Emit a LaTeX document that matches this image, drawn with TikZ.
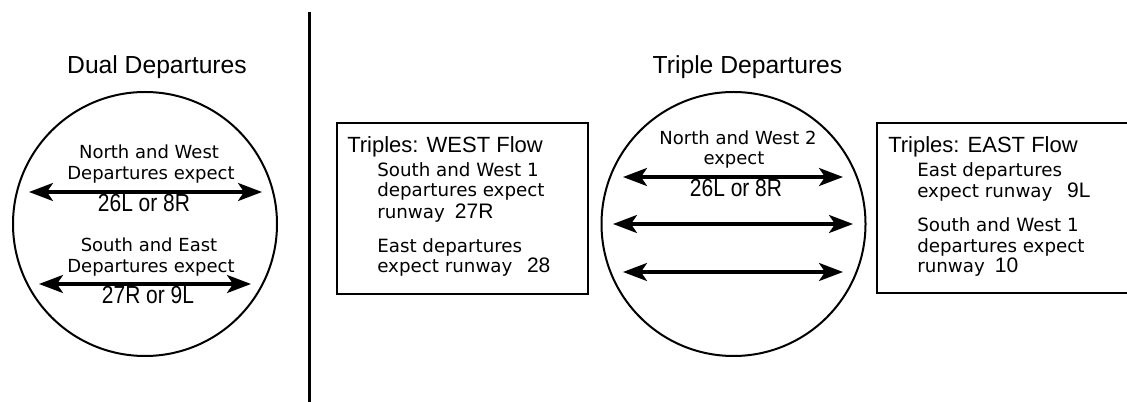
\documentclass[tikz,border=0pt]{standalone}
\usepackage{fontspec}
\setmainfont{DejaVu Sans}
\newfontfamily\headfont{Liberation Sans}
\newfontfamily\rwyfont[FakeStretch=0.85]{Liberation Sans}
\usetikzlibrary{arrows.meta}

\tikzset{
  ring/.style={draw, circle, line width=1.5pt, minimum size=198pt, inner sep=0pt},
  panel/.style={draw, rectangle, line width=1.5pt, inner sep=0pt},
  barb/.style={Stealth[length=18pt,width=13.5pt,inset=4.5pt]},
  runway/.style={line width=2.3pt, {Stealth[length=18pt,width=13.5pt,inset=4.5pt]}-{Stealth[length=18pt,width=13.5pt,inset=4.5pt]}},
  divider/.style={line width=1.8pt},
  heading/.style={font=\headfont\fontsize{18.5}{20}\selectfont, inner sep=0pt, anchor=base},
  boxhead/.style={font=\headfont\fontsize{16.5}{18}\selectfont, inner sep=0pt, anchor=base west},
  note/.style={font=\fontsize{13.5}{15.75}\selectfont, inner sep=0pt, anchor=base},
  line/.style={font=\fontsize{13.7}{15.75}\selectfont, inner sep=0pt, anchor=base west},
  rwytext/.style={font=\rwyfont\fontsize{18.5}{20}\selectfont, inner sep=0pt, anchor=base},
}
\newcommand{\rwynum}[1]{{\headfont\fontsize{15.75}{16}\selectfont #1}}

\begin{document}
\begin{tikzpicture}[x=0.75pt,y=-0.75pt]
\useasboundingbox (0,0) rectangle (1127,402);

% separator between the two halves
\coordinate (septop) at (309.5,12);
\coordinate (sepbot) at (309.5,402);
\draw[divider] (septop) -- (sepbot);

% ---------- dual departures ----------
\node[heading] (dualtitle) at (157,74) {Dual Departures};
\node[ring] (dual) at (145,224) {};

\node[note] (dn1) at (149,159) {North and West};
\node[note] (dn2) at (151,180) {Departures expect};
\coordinate (d1l) at (29,192);
\coordinate (d1r) at (262,192);
\draw[runway] (d1l) -- (d1r);
\node[rwytext] (drwy1) at (144,212) {26L or 8R};

\node[note] (ds1) at (149,252) {South and East};
\node[note] (ds2) at (151,273) {Departures expect};
\coordinate (d2l) at (39,284);
\coordinate (d2r) at (251,284);
\draw[runway] (d2l) -- (d2r);
\node[rwytext] (drwy2) at (148,304) {27R or 9L};

% ---------- triple departures ----------
\node[heading] (tripletitle) at (747.5,74) {Triple Departures};
\node[ring] (triple) at (733.5,224) {};

\node[note] (tn1) at (738,145) {North and West 2};
\node[note] (tn2) at (734,165) {expect};
\coordinate (t1l) at (623,177);
\coordinate (t1r) at (843,177);
\draw[runway] (t1l) -- (t1r);
\node[rwytext] (trwy) at (736,197) {26L or 8R};

\coordinate (t2l) at (613,224);
\coordinate (t2r) at (853,224);
\draw[runway] (t2l) -- (t2r);

\coordinate (t3l) at (623,272);
\coordinate (t3r) at (843,272);
\draw[runway] (t3l) -- (t3r);

% ---------- west flow panel ----------
\node[panel, minimum width=188.25pt, minimum height=128.25pt] (west) at (462.5,208.5) {};
\node[boxhead] (westhead) at (347,153) {Triples: WEST Flow};
\node[line] (w1) at (377,177) {South and West 1};
\node[line] (w2) at (377,197) {departures expect};
\node[line] (w3) at (377,219) {runway\hspace{0.55em}\rwynum{27R}};
\node[line] (w4) at (377,253) {East departures};
\node[line] (w5) at (377,273) {expect runway\hspace{0.8em}\rwynum{28}};

% ---------- east flow panel ----------
\node[panel, minimum width=195pt, minimum height=127.5pt] (east) at (1007,208) {};
\node[boxhead] (easthead) at (888,153) {Triples: EAST Flow};
\node[line] (e1) at (917,177) {East departures};
\node[line] (e2) at (917,198) {expect runway\hspace{0.8em}\rwynum{9L}};
\node[line] (e3) at (917,232) {South and West 1};
\node[line] (e4) at (917,253) {departures expect};
\node[line] (e5) at (917,273) {runway\hspace{0.55em}\rwynum{10}};
\end{tikzpicture}
\end{document}
